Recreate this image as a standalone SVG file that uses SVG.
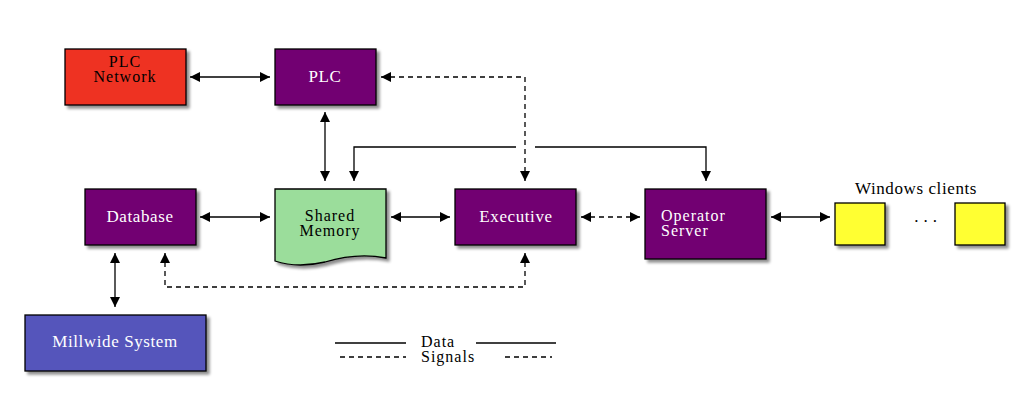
<svg xmlns="http://www.w3.org/2000/svg" width="1030" height="406" viewBox="0 0 1030 406">
<defs>
  <filter id="sh" x="-10%" y="-10%" width="130%" height="140%">
    <feGaussianBlur in="SourceAlpha" stdDeviation="1.5"/>
    <feOffset dx="3" dy="3" result="b"/>
    <feComponentTransfer><feFuncA type="linear" slope="0.45"/></feComponentTransfer>
    <feMerge><feMergeNode/><feMergeNode in="SourceGraphic"/></feMerge>
  </filter>
  <marker id="ah" viewBox="0 0 10 10" refX="10" refY="5" markerWidth="10" markerHeight="10" markerUnits="userSpaceOnUse" orient="auto-start-reverse">
    <path d="M0,0 L10,5 L0,10 Z" fill="#000"/>
  </marker>
</defs>
<style>
  .box { stroke:#000; stroke-width:1.3; filter:url(#sh); }
  .purple { fill:#720072; }
  .t { font-family:"Liberation Serif","Times New Roman",serif; font-size:17px; letter-spacing:0.6px; }
  .s { font-size:16px; letter-spacing:1px; }
  .dots { letter-spacing:5px; }
  .w { fill:#fff; }
  .k { fill:#000; }
  .ln { fill:none; stroke:#000; stroke-width:1.3; }
  .d { stroke-dasharray:5,4; }
</style>
<rect width="1030" height="406" fill="#fff"/>

<g id="connectors">
  <line class="ln" x1="190" y1="77" x2="270" y2="77" marker-start="url(#ah)" marker-end="url(#ah)"/>
  <line class="ln" x1="325" y1="112" x2="325" y2="181" marker-start="url(#ah)" marker-end="url(#ah)"/>
  <line class="ln" x1="200" y1="217" x2="270" y2="217" marker-start="url(#ah)" marker-end="url(#ah)"/>
  <line class="ln" x1="391" y1="217" x2="450" y2="217" marker-start="url(#ah)" marker-end="url(#ah)"/>
  <line class="ln d" x1="581" y1="217" x2="640" y2="217" marker-start="url(#ah)" marker-end="url(#ah)"/>
  <line class="ln" x1="771" y1="217" x2="830" y2="217" marker-start="url(#ah)" marker-end="url(#ah)"/>
  <line class="ln" x1="115" y1="253" x2="115" y2="307" marker-start="url(#ah)" marker-end="url(#ah)"/>
  <polyline class="ln" points="516,147 354,147 354,181" marker-end="url(#ah)"/>
  <polyline class="ln" points="535,147 706,147 706,181" marker-end="url(#ah)"/>
  <polyline class="ln d" points="525,181 525,77 381,77" marker-start="url(#ah)" marker-end="url(#ah)"/>
  <polyline class="ln d" points="165,253 165,287 525,287 525,253" marker-start="url(#ah)" marker-end="url(#ah)"/>
</g>

<g id="plc-network">
  <rect class="box" x="65" y="49" width="121" height="56" fill="#EE3322"/>
  <text class="t s k" x="125" y="67" text-anchor="middle">PLC</text>
  <text class="t s k" x="125" y="82" text-anchor="middle">Network</text>
</g>
<g id="plc">
  <rect class="box purple" x="275" y="49" width="101" height="56"/>
  <text class="t w" x="325" y="82" text-anchor="middle">PLC</text>
</g>
<g id="database">
  <rect class="box purple" x="85" y="189" width="111" height="56"/>
  <text class="t w" x="140" y="222" text-anchor="middle">Database</text>
</g>
<g id="shared-memory">
  <path class="box" d="M275,189 H386 V258 C365,254 345,256 325,262 C308,266 290,266 275,261 Z" fill="#9BDD9B"/>
  <text class="t s k" x="330" y="221" text-anchor="middle">Shared</text>
  <text class="t s k" x="330" y="236" text-anchor="middle">Memory</text>
</g>
<g id="executive">
  <rect class="box purple" x="455" y="189" width="121" height="56"/>
  <text class="t w" x="516" y="222" text-anchor="middle">Executive</text>
</g>
<g id="operator-server">
  <rect class="box purple" x="645" y="189" width="121" height="70"/>
  <text class="t s w" x="661" y="221">Operator</text>
  <text class="t s w" x="661" y="236">Server</text>
</g>
<g id="windows-clients">
  <text class="t k" x="916" y="194" text-anchor="middle">Windows clients</text>
  <rect class="box" x="835" y="203" width="50" height="42" fill="#FFFF33"/>
  <text class="t k dots" x="928" y="222" text-anchor="middle">...</text>
  <rect class="box" x="955" y="203" width="50" height="42" fill="#FFFF33"/>
</g>
<g id="millwide">
  <rect class="box" x="25" y="315" width="181" height="56" fill="#5555BB"/>
  <text class="t w" x="115" y="347" text-anchor="middle">Millwide System</text>
</g>
<g id="legend">
  <line class="ln" x1="335" y1="343" x2="406" y2="343"/>
  <line class="ln" x1="476" y1="343" x2="556" y2="343"/>
  <line class="ln d" x1="340" y1="357" x2="406" y2="357"/>
  <line class="ln d" x1="505" y1="357" x2="552" y2="357"/>
  <text class="t s k" x="421" y="347">Data</text>
  <text class="t s k" x="421" y="362">Signals</text>
</g>
</svg>
